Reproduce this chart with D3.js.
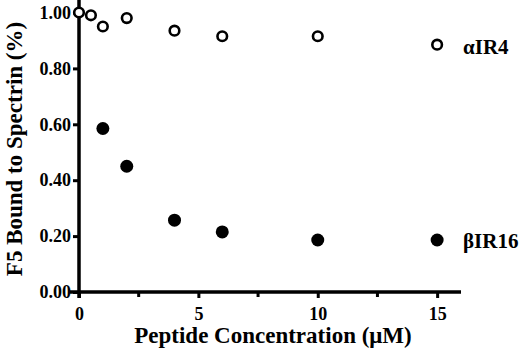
<!DOCTYPE html>
<html>
<head>
<meta charset="utf-8">
<script src="https://cdn.jsdelivr.net/npm/d3@7"></script>
<style>
  body { margin: 0; background: #fff; }
  svg { display: block; }
</style>
</head>
<body>
<script>
// concentrations (uM) and fraction bound
const alphaX = [0, 0.5, 1, 2, 4, 6, 10, 15];
const alphaY = [1.00, 0.99, 0.95, 0.98, 0.935, 0.915, 0.915, 0.885];
const betaX = [1, 2, 4, 6, 10, 15];
const betaY = [0.585, 0.45, 0.257, 0.215, 0.186, 0.186];
const xTicks = [0, 5, 10, 15];
const xMinor = [2.5, 7.5, 12.5];
const yTicks = [0, 0.2, 0.4, 0.6, 0.8, 1.0];

let width = 520;
let height = 349;
const serif = "'Liberation Serif', serif";

const x = d3.scaleLinear()
    .domain([0, 16])
    .range([79, 461]);

const y = d3.scaleLinear()
    .domain([0, 1])
    .range([292, 12.5]);

const svg = d3.select("body").append("svg")
    .attr("width", width)
    .attr("height", height)
    .attr("viewBox", [0, 0, width, height]);

// x axis
const xAxis = svg.append("g")
    .attr("transform", `translate(0,${y(0)})`)
    .call(d3.axisBottom(x).tickValues(xTicks).tickFormat(d3.format("d")).tickSize(6).tickSizeOuter(0));
xAxis.select(".domain").attr("stroke-width", 3.5).attr("d", `M${x(0) - 9},0H${x(16)}`);
xAxis.selectAll(".tick line").attr("stroke-width", 3);
xAxis.selectAll(".tick text")
    .attr("y", 15)
    .style("font-family", serif)
    .style("font-size", "18px")
    .style("font-weight", "bold")
    .attr("fill", "#000");
xAxis.append("g").selectAll("line")
    .data(xMinor)
    .join("line")
    .attr("x1", d => x(d)).attr("x2", d => x(d))
    .attr("y1", 0).attr("y2", 5)
    .attr("stroke", "#000")
    .attr("stroke-width", 3);

// y axis
const yAxis = svg.append("g")
    .attr("transform", `translate(${x(0)},0)`)
    .call(d3.axisLeft(y).tickValues(yTicks).tickFormat(d3.format(".2f")).tickSize(6).tickSizeOuter(0));
yAxis.select(".domain").attr("stroke-width", 3.5).attr("d", `M0,${y(0) + 6}V0`);
yAxis.selectAll(".tick line").attr("stroke-width", 3);
yAxis.selectAll(".tick text")
    .attr("x", -8)
    .style("font-family", serif)
    .style("font-size", "18px")
    .style("font-weight", "bold")
    .attr("fill", "#000");

// axis titles
svg.append("text")
    .attr("x", 273)
    .attr("y", 343)
    .attr("text-anchor", "middle")
    .style("font-family", serif)
    .style("font-size", "23px")
    .style("font-weight", "bold")
    .text("Peptide Concentration (\u03bcM)");

svg.append("text")
    .attr("transform", `translate(22,149) rotate(-90)`)
    .attr("text-anchor", "middle")
    .style("font-family", serif)
    .style("font-size", "23px")
    .style("font-weight", "bold")
    .text("F5 Bound to Spectrin (%)");

// points
svg.append("g")
    .selectAll("circle")
    .data(alphaX.map((d, i) => [d, alphaY[i]]))
    .join("circle")
    .attr("cx", d => x(d[0]))
    .attr("cy", d => y(d[1]))
    .attr("r", 4.8)
    .attr("fill", "#fff")
    .attr("stroke", "#000")
    .attr("stroke-width", 2.6);

svg.append("g")
    .selectAll("circle")
    .data(betaX.map((d, i) => [d, betaY[i]]))
    .join("circle")
    .attr("cx", d => x(d[0]))
    .attr("cy", d => y(d[1]))
    .attr("r", 6.5)
    .attr("fill", "#000");

// series labels
svg.append("text")
    .attr("x", 463)
    .attr("y", 54)
    .style("font-family", serif)
    .style("font-size", "21px")
    .style("font-weight", "bold")
    .text("\u03b1IR4");

svg.append("text")
    .attr("x", 463)
    .attr("y", 248)
    .style("font-family", serif)
    .style("font-size", "21px")
    .style("font-weight", "bold")
    .text("\u03b2IR16");
</script>
</body>
</html>
